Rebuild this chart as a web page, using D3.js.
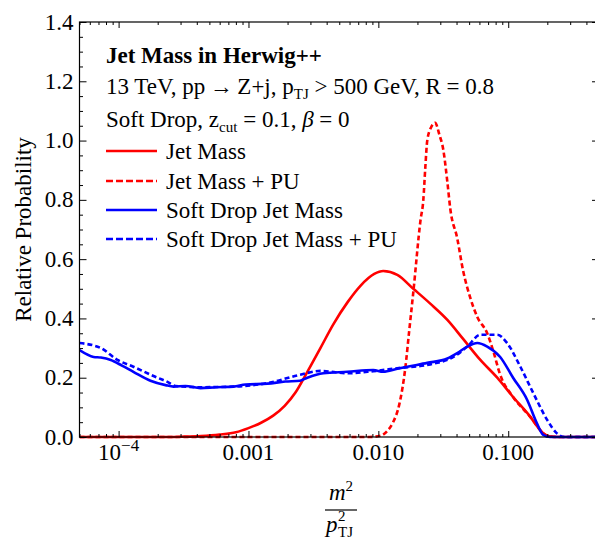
<!DOCTYPE html>
<html><head><meta charset="utf-8">
<script src="https://cdn.jsdelivr.net/npm/d3@7"></script>
<style>body{margin:0;background:#fff}svg{display:block}</style>
</head><body>
<svg id="c" width="595" height="540"></svg>
<script>
// ---- data ----
const jetMassX = [5e-5,1e-4,2e-4,3e-4,4.3e-4,6e-4,8e-4,0.001,0.00125,0.00155,0.0019,0.0023,0.0028,0.00358,0.0045,0.0058,0.00728,0.0093,0.0109,0.014,0.0186,0.0251,0.034,0.0451,0.061,0.0823,0.109,0.148,0.176,0.2,0.25,0.5];
const jetMassY = [0,0,0,0.001,0.003,0.008,0.016,0.03,0.048,0.072,0.105,0.15,0.215,0.30,0.38,0.455,0.51,0.55,0.56,0.547,0.50,0.45,0.395,0.33,0.26,0.20,0.135,0.068,0.024,0.003,0,0];

const jetMassPUX = [5e-5,0.001,0.005,0.0085,0.0104,0.0117,0.013,0.0145,0.0161,0.0173,0.0186,0.0211,0.0222,0.023,0.0238,0.0255,0.0274,0.0295,0.0316,0.034,0.0358,0.0405,0.045,0.051,0.0578,0.0689,0.0767,0.0867,0.109,0.148,0.186,0.21,0.25,0.5];
const jetMassPUY = [0,0,0,0,0.004,0.02,0.05,0.11,0.23,0.36,0.49,0.73,0.80,0.91,1.0,1.045,1.06,1.02,0.97,0.86,0.77,0.67,0.56,0.47,0.405,0.35,0.29,0.21,0.135,0.068,0.013,0.002,0,0];

const sdMassX = [5e-5,6.42e-5,7.3e-5,8.7e-5,1.07e-4,1.3e-4,1.76e-4,2.3e-4,2.65e-4,3.27e-4,4.27e-4,5.6e-4,7.67e-4,9.5e-4,1.4e-3,1.92e-3,2.5e-3,2.84e-3,3.77e-3,5.77e-3,9.14e-3,0.0109,0.014,0.0167,0.0238,0.034,0.0405,0.0484,0.0578,0.0689,0.0867,0.109,0.14,0.166,0.186,0.21,0.5];
const sdMassY = [0.293,0.27,0.268,0.26,0.24,0.22,0.19,0.175,0.17,0.172,0.165,0.168,0.17,0.177,0.18,0.187,0.19,0.2,0.215,0.22,0.226,0.22,0.23,0.237,0.25,0.265,0.283,0.305,0.317,0.305,0.27,0.2,0.125,0.047,0.007,0,0];

const sdMassPUX = [5e-5,7.3e-5,9.8e-5,1.3e-4,1.99e-4,2.38e-4,2.74e-4,4.27e-4,7.67e-4,1.4e-3,2.5e-3,3.58e-3,5.77e-3,9.14e-3,0.014,0.0251,0.0378,0.0484,0.061,0.0823,0.098,0.124,0.156,0.2,0.236,0.27,0.5];
const sdMassPUY = [0.317,0.30,0.26,0.237,0.20,0.186,0.172,0.168,0.17,0.182,0.21,0.223,0.215,0.222,0.232,0.245,0.27,0.305,0.345,0.345,0.317,0.237,0.148,0.057,0.013,0,0];

const seriesNames = ["Jet Mass","Jet Mass + PU","Soft Drop Jet Mass","Soft Drop Jet Mass + PU"];
const seriesColors = ["#ff0000","#ff0000","#0000ff","#0000ff"];
const seriesDashed = [false,true,false,true];
const yTickValues = [0,0.2,0.4,0.6,0.8,1.0,1.2,1.4];
const xTickValues = [1e-4,1e-3,1e-2,1e-1];
const xTickLabels = ["10^-4","0.001","0.010","0.100"];

// ---- layout ----
const svg = d3.select("#c");
const L=79.5, R=599, T=22, B=437;
const x = d3.scaleLog().domain([5e-5,0.5]).range([L,R]);
const y = d3.scaleLinear().domain([0,1.4]).range([B,T]);
const font = "'Liberation Serif','Times New Roman',serif";
const fs = 23;

const series = [
  d3.zip(jetMassX,jetMassY),
  d3.zip(jetMassPUX,jetMassPUY),
  d3.zip(sdMassX,sdMassY),
  d3.zip(sdMassPUX,sdMassPUY)
];

const clip = svg.append("defs").append("clipPath").attr("id","pc");
clip.append("rect").attr("x",L).attr("y",T-2).attr("width",R-L).attr("height",B-T+4);

const line = d3.line().x(d=>x(d[0])).y(d=>y(d[1])).curve(d3.curveMonotoneX);
const g = svg.append("g").attr("clip-path","url(#pc)");
series.forEach((s,i)=>{
  g.append("path").attr("d",line(s)).attr("fill","none")
   .attr("stroke",seriesColors[i]).attr("stroke-width",2.6)
   .attr("stroke-dasharray",seriesDashed[i]?"5,3":null)
   .attr("stroke-linejoin","round");
});

// frame
svg.append("rect").attr("x",L).attr("y",T).attr("width",R-L).attr("height",B-T)
  .attr("fill","none").attr("stroke","#000").attr("stroke-width",1.2);

// ticks via axes
const yMinor = d3.range(0,1.401,0.05).filter(v=>Math.abs(v*5-Math.round(v*5))>1e-6);
svg.append("g").attr("transform",`translate(${L},0)`)
  .call(d3.axisRight(y).tickValues(yTickValues).tickSize(7).tickFormat(""));
svg.append("g").attr("transform",`translate(${L},0)`)
  .call(d3.axisRight(y).tickValues(yMinor).tickSize(3.5).tickFormat(""));
svg.append("g").attr("transform",`translate(${R},0)`)
  .call(d3.axisLeft(y).tickValues(yTickValues).tickSize(7).tickFormat(""));
svg.append("g").attr("transform",`translate(${R},0)`)
  .call(d3.axisLeft(y).tickValues(yMinor).tickSize(3.5).tickFormat(""));

const xMinor = [];
[1e-5,1e-4,1e-3,1e-2,1e-1].forEach(d=>{for(let k=2;k<=9;k++){const v=d*k; if(v>=5e-5&&v<=0.5) xMinor.push(v);}});
svg.append("g").attr("transform",`translate(0,${B})`)
  .call(d3.axisTop(x).tickValues(xTickValues).tickSize(6).tickFormat(""));
svg.append("g").attr("transform",`translate(0,${B})`)
  .call(d3.axisTop(x).tickValues(xMinor).tickSize(3).tickFormat(""));
svg.append("g").attr("transform",`translate(0,${T})`)
  .call(d3.axisBottom(x).tickValues(xTickValues).tickSize(6).tickFormat(""));
svg.append("g").attr("transform",`translate(0,${T})`)
  .call(d3.axisBottom(x).tickValues(xMinor).tickSize(3).tickFormat(""));
svg.selectAll(".domain").remove();
svg.selectAll(".tick line").attr("stroke","#000").attr("stroke-width",1);

// y tick labels
yTickValues.forEach(v=>{
  svg.append("text").attr("x",L-6).attr("y",y(v)+7.5).attr("text-anchor","end")
    .attr("font-family",font).attr("font-size",fs).text(v.toFixed(1));
});
// x tick labels
xTickValues.forEach((v,i)=>{
  const lab = xTickLabels[i];
  const t = svg.append("text").attr("x",x(v)).attr("y",460).attr("text-anchor","middle")
    .attr("font-family",font).attr("font-size",fs);
  if(lab.includes("^")){
    const [b,e]=lab.split("^");
    t.append("tspan").text(b);
    t.append("tspan").attr("dy",-9).attr("font-size",17).text(e.replace("-","\u2212"));
  } else t.text(lab);
});

// y axis label
svg.append("text").attr("transform",`translate(31,${(T+B)/2}) rotate(-90)`)
  .attr("text-anchor","middle").attr("font-family",font).attr("font-size",23)
  .text("Relative Probability");

// x axis label (fraction)
const cx = 341;
const num = svg.append("text").attr("x",cx).attr("y",500).attr("text-anchor","middle")
  .attr("font-family",font).attr("font-size",fs);
num.append("tspan").attr("font-style","italic").text("m");
num.append("tspan").attr("dy",-9).attr("font-size",15).text("2");
svg.append("line").attr("x1",cx-16).attr("x2",cx+16).attr("y1",510).attr("y2",510)
  .attr("stroke","#000").attr("stroke-width",1.2);
const den = svg.append("text").attr("x",cx-15).attr("y",532)
  .attr("font-family",font).attr("font-size",fs);
den.append("tspan").attr("font-style","italic").text("p");
svg.append("text").attr("x",cx-3).attr("y",521).attr("font-family",font).attr("font-size",15).text("2");
svg.append("text").attr("x",cx-3).attr("y",537).attr("font-family",font).attr("font-size",15).text("TJ");

// annotations
const tx0 = 106;
svg.append("text").attr("x",tx0).attr("y",63).attr("font-family",font).attr("font-size",fs)
  .attr("font-weight","bold").text("Jet Mass in Herwig++");
const l2 = svg.append("text").attr("x",tx0).attr("y",94).attr("font-family",font).attr("font-size",fs);
l2.append("tspan").text("13 TeV, pp\u2009\u2192\u2009Z+j, p");
l2.append("tspan").attr("dy",5).attr("font-size",15).text("TJ");
l2.append("tspan").attr("dy",-5).text(" > 500 GeV, R = 0.8");
const l3 = svg.append("text").attr("x",tx0).attr("y",127).attr("font-family",font).attr("font-size",fs);
l3.append("tspan").text("Soft Drop, z");
l3.append("tspan").attr("dy",5).attr("font-size",15).text("cut");
l3.append("tspan").attr("dy",-5).text(" = 0.1, ");
l3.append("tspan").attr("font-style","italic").text("\u03b2");
l3.append("tspan").text(" = 0");

// legend
const legY = [151,181,210,239];
seriesNames.forEach((n,i)=>{
  svg.append("line").attr("x1",106).attr("x2",157).attr("y1",legY[i]).attr("y2",legY[i])
    .attr("stroke",seriesColors[i]).attr("stroke-width",2.6)
    .attr("stroke-dasharray",seriesDashed[i]?"7,3":null);
  svg.append("text").attr("x",166).attr("y",legY[i]+8).attr("font-family",font)
    .attr("font-size",fs).text(n);
});
</script>
</body></html>
